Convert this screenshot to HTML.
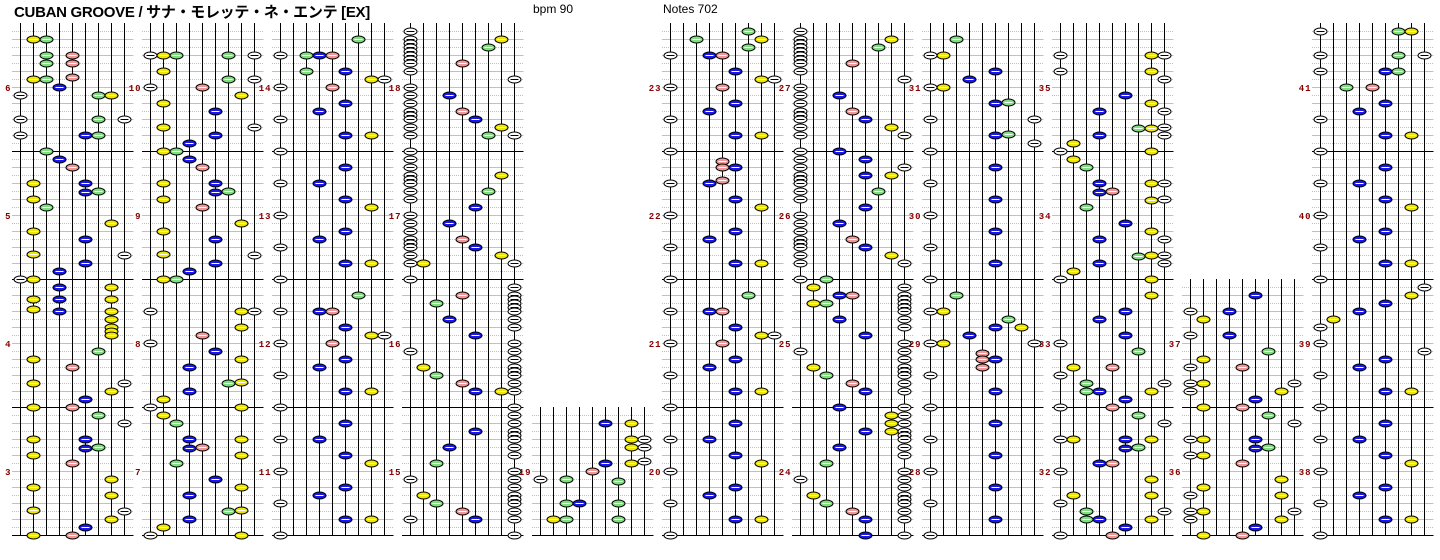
<!DOCTYPE html>
<html><head><meta charset="utf-8"><style>
html,body{margin:0;padding:0;background:#fff;width:1440px;height:560px;overflow:hidden}
svg{position:absolute;left:0;top:0}
.t{position:absolute;top:1px;font-family:"Liberation Sans","Noto Sans CJK JP",sans-serif;color:#000;white-space:nowrap}
</style></head><body>
<div class="t" style="left:14px;font-size:15px;font-weight:bold;letter-spacing:-0.3px">CUBAN GROOVE / サナ・モレッテ・ネ・エンテ [EX]</div>
<div class="t" style="left:533px;top:2px;font-size:12px">bpm 90</div>
<div class="t" style="left:663px;top:2px;font-size:12px">Notes 702</div>
<svg id="s" width="1440" height="560" xmlns="http://www.w3.org/2000/svg"></svg>
<script>
var cols=[
{top:23,nums:[6,5,4,3],d:"39:23,55:35,63:35,79:23,77:5,87:4,95:178,119:179,135:167,151:3,159:4,167:5,183:26,192:6,191:7,199:2,207:3,223:8,231:2,239:6,254:2,255:9,263:6,271:4,279:12,287:48,299:248,309:2,311:48,319:8,327:8,331:8,335:8,351:7,359:2,367:5,383:29,391:8,399:6,407:25,415:7,423:9,439:26,448:6,447:7,455:2,463:5,479:8,487:2,495:8,510:2,511:9,519:8,527:6,535:25"},
{top:23,nums:[10,9,8,7],d:"55:12379,71:2,79:79,87:15,95:8,103:2,111:6,127:29,135:6,143:4,151:23,159:4,167:5,183:26,192:6,191:7,199:2,207:5,223:8,231:2,239:6,254:2,255:9,263:6,271:4,279:23,311:189,327:8,335:5,343:1,351:6,359:8,367:4,383:7,382:8,391:4,399:2,407:18,415:2,423:3,439:48,448:4,447:5,455:8,463:3,479:6,487:8,495:4,511:7,510:8,519:4,527:2,535:18"},
{top:23,nums:[14,13,12,11],d:"39:7,55:1345,71:36,79:89,87:15,103:6,111:4,119:1,135:68,151:1,167:6,183:14,199:6,207:8,215:1,231:6,239:4,247:1,263:68,279:1,295:7,311:145,327:6,335:89,343:15,359:6,367:4,375:1,391:68,407:1,423:6,439:14,455:6,463:8,471:1,487:6,495:4,503:1,519:68,535:1"},
{top:23,nums:[18,17,16,15],d:"39:8,47:7,63:5,79:9,95:4,111:5,119:6,127:8,135:79,175:8,191:7,207:6,223:4,239:5,247:6,255:8,263:29,295:5,303:3,319:4,335:6,351:1,367:2,375:3,383:5,391:68,431:6,447:4,463:3,479:1,495:2,503:3,511:5,519:16",d1:1,d9:1},
{top:407,nums:[null,null,null,19],d:"423:68,439:89,447:89,463:68,461:9,471:5,479:13,481:7,503:347,519:237"},
{top:23,nums:[23,22,21,20],d:"31:7,39:38,47:7,55:145,71:6,79:89,87:15,103:6,111:4,119:1,135:68,151:1,161:5,167:56,180:5,183:14,199:6,207:8,215:1,231:6,239:4,247:1,263:68,279:1,295:7,311:145,327:6,335:89,343:15,359:6,367:4,375:1,391:68,407:1,423:6,439:14,455:6,463:8,471:1,487:6,495:4,503:1,519:68,535:1"},
{top:23,nums:[27,26,25,24],d:"39:8,47:7,63:5,79:9,95:4,111:5,119:6,127:8,135:9,151:4,159:6,167:9,175:68,191:7,207:6,223:4,239:5,247:6,255:8,263:9,279:3,287:2,295:45,303:23,319:4,335:6,351:1,367:2,375:3,383:5,391:6,407:4,415:8,423:8,431:86,447:4,463:3,479:1,495:2,503:3,511:5,519:6,535:6",d1:1,d9:1},
{top:23,nums:[31,30,29,28],d:"39:3,55:12,71:6,79:4,87:12,103:6,102:7,119:19,135:6,134:7,143:9,151:1,167:6,183:1,199:6,215:1,231:6,247:1,263:6,279:1,295:3,311:12,319:7,327:68,335:4,343:129,353:5,359:56,367:5,375:1,391:6,407:1,423:6,439:1,455:6,471:1,487:6,503:1,519:6,535:1"},
{top:23,nums:[35,34,33,32],d:"55:189,71:18,79:9,95:6,103:8,111:49,128:78,127:9,135:49,143:2,151:18,159:2,167:3,183:489,192:4,191:5,200:8,199:9,207:3,223:6,231:8,239:49,256:7,255:89,263:49,271:2,279:18,295:8,311:6,319:4,335:6,343:1,351:7,367:25,375:1,383:39,391:348,399:6,407:15,415:7,423:9,439:1268,448:6,447:7,463:45,471:1,479:8,495:28,503:1,511:39,519:348,527:6,535:15"},
{top:279,nums:[null,null,37,36],d:"295:6,311:14,319:2,335:14,351:7,359:2,367:15,383:129,391:18,399:6,407:25,415:7,423:9,439:126,448:6,447:7,455:12,463:5,479:8,487:2,495:18,511:129,519:18,527:6,535:25"},
{top:23,nums:[41,40,39,38],d:"31:178,55:179,71:167,87:35,103:6,111:4,119:1,135:68,151:1,167:6,183:14,199:6,207:8,215:1,231:6,239:4,247:1,263:68,279:1,287:9,295:8,303:6,311:4,319:2,327:1,343:1,351:9,359:6,367:4,375:1,391:68,407:1,423:6,439:14,455:6,463:8,471:1,487:6,495:4,503:1,519:68,535:1"}
];
var L1=[31,39,43,47,51,55,59,63,71,87,95,103,111,115,119,127,135,151,159,167,175,179,183,191,199,215,223,231,239,243,247,255,263,279];
var L9=[287,295,299,303,307,311,319,327,343,351,359,367,371,375,383,391,407,415,423,431,435,439,447,455,471,479,487,495,499,503,511,519,535];
var fill=[null,"#ffffff","#f0e800","#80e080","#1818e8","#f09898","#1818e8","#80e080","#f0e800","#ffffff"];
var g=[],n=[];
cols.forEach(function(c,i){
  var x0=20.5+130*i, L=x0-8.5, R=x0+104+9;
  for(var y=c.top;y<535;y+=8){
    if((y-23)%128===0)continue;
    var solid=((y-23)%16===0);
    g.push('<line x1="'+L+'" x2="'+R+'" y1="'+(y+0.5)+'" y2="'+(y+0.5)+'" stroke="#c0c0c0"'+(solid?'':' stroke-dasharray="1,1"')+'/>');
  }
  for(var k=0;k<9;k++){var x=x0+13*k;g.push('<line x1="'+x+'" x2="'+x+'" y1="'+c.top+'" y2="535" stroke="#000"/>');}
  [151,279,407,535].forEach(function(y){ if(y>c.top) g.push('<line x1="'+L+'" x2="'+R+'" y1="'+(y+0.5)+'" y2="'+(y+0.5)+'" stroke="#000"/>');});
  c.nums.forEach(function(v,m){ if(v!==null) g.push('<text x="'+(x0-9)+'" y="'+(91+128*m)+'" text-anchor="end" font-family="Liberation Mono,monospace" font-size="9" font-weight="bold" letter-spacing="1" fill="#8b0000">'+v+'</text>');});
  function note(l,y){var x=x0+13*(l-1);var f=fill[l];
    n.push('<ellipse cx="'+x+'" cy="'+(y+0.5)+'" rx="6.5" ry="3.5" fill="'+f+'" stroke="#000" stroke-width="1"/>');
    n.push('<line x1="'+(x-4)+'" x2="'+(x+4)+'" y1="'+(y+0.5)+'" y2="'+(y+0.5)+'" stroke="'+(f=="#ffffff"?"#000":"#fff")+'"/>');}
  c.d.split(',').forEach(function(p){var a=p.split(':');var y=+a[0];a[1].split('').forEach(function(l){note(+l,y);});});
  if(c.d1)L1.forEach(function(y){note(1,y);});
  if(c.d9)L9.forEach(function(y){note(9,y);});
});
document.getElementById('s').innerHTML=g.join('')+n.join('');
</script>
</body></html>
